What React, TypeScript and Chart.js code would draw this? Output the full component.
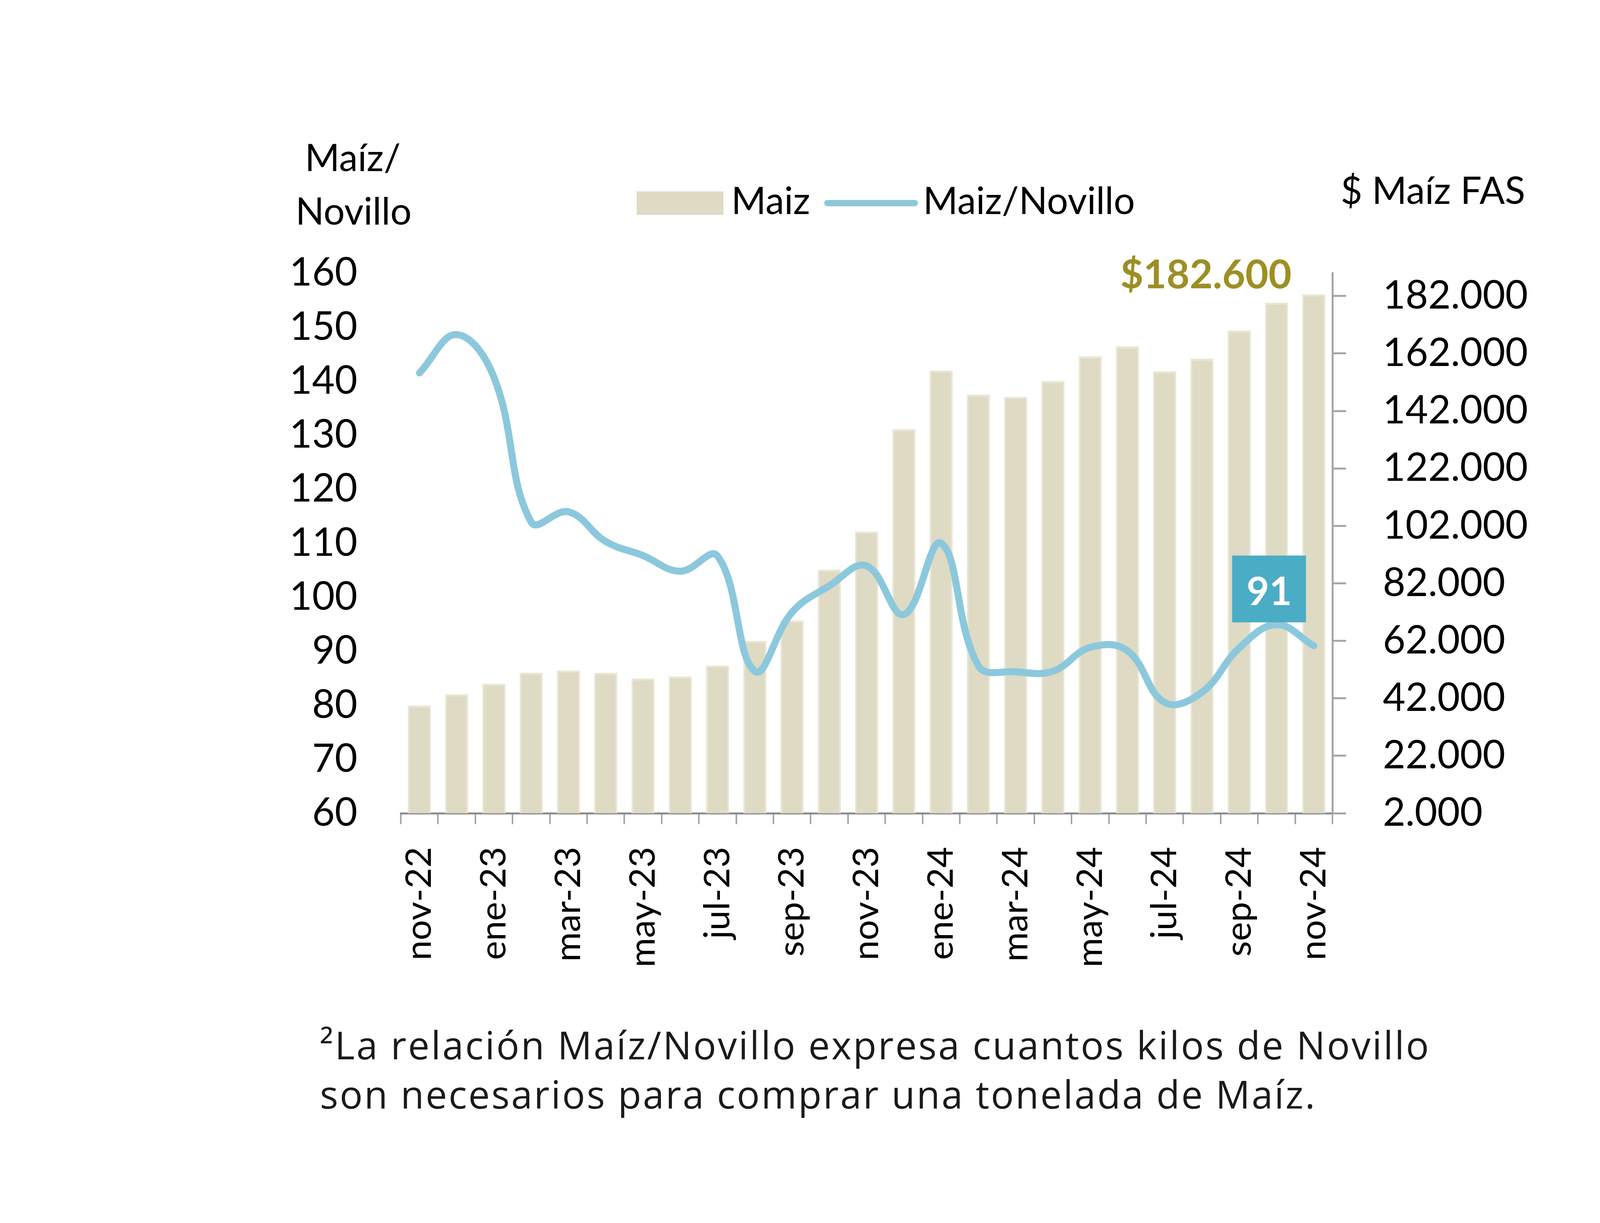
import React, { useEffect, useRef } from 'react';
import { Chart, registerables } from 'chart.js';

Chart.register(...registerables);

// meses nov-22 .. nov-24
const months = [
  'nov-22', 'dic-22', 'ene-23', 'feb-23', 'mar-23', 'abr-23', 'may-23', 'jun-23', 'jul-23',
  'ago-23', 'sep-23', 'oct-23', 'nov-23', 'dic-23', 'ene-24', 'feb-24', 'mar-24', 'abr-24',
  'may-24', 'jun-24', 'jul-24', 'ago-24', 'sep-24', 'oct-24', 'nov-24'
];

// $ Maíz FAS (eje derecho)
const maizPrice = [
  39500, 43400, 47100, 50900, 51700, 50900, 48900, 49600, 53400, 62000, 69100, 86800, 100000,
  135700, 156000, 147700, 146900, 152400, 161000, 164500, 155800, 160200, 170000, 179700, 182600
];

// relación Maíz/Novillo (eje izquierdo)
const maizNovillo = [
  141.5, 148.6, 140.7, 113.9, 115.8, 110.3, 107.7, 104.8, 107.6, 86.3, 97.2, 102.1, 105.8,
  96.8, 110.0, 87.3, 86.2, 86.3, 90.7, 90.1, 80.5, 82.4, 90.6, 94.9, 91.0
];

const rightTicks = [2000, 22000, 42000, 62000, 82000, 102000, 122000, 142000, 162000, 182000];

const footnoteLines = [
  '²La relación Maíz/Novillo expresa cuantos kilos de Novillo',
  'son necesarios para comprar una tonelada de Maíz.'
];

const BAR_COLOR = '#DEDAC4';
const BAR_EDGE = '#E9E6D4';
const LINE_COLOR = '#8CC8DC';
const BOX_COLOR = '#4BACC6';
const PRICE_COLOR = '#9C8F24';
const AXIS_GRAY = '#A6A6A6';

const fmt = (v: number) => String(Math.round(v)).replace(/\B(?=(\d{3})+(?!\d))/g, '.');

const overlayPlugin = {
  id: 'overlay',
  afterDraw(chart: any) {
    const ctx: CanvasRenderingContext2D = chart.ctx;
    ctx.save();

    // titulos de ejes
    ctx.fillStyle = '#000';
    ctx.font = '96px Lato';
    ctx.textBaseline = 'alphabetic';
    ctx.textAlign = 'center';
    ctx.fillText('Maíz/', 903, 438);
    ctx.fillText('Novillo', 905, 575);
    ctx.textAlign = 'left';
    ctx.fillText('$ Maíz FAS', 3432, 522);

    // leyenda
    ctx.fillStyle = BAR_COLOR;
    ctx.fillRect(1630, 490, 222, 60);
    ctx.fillStyle = '#000';
    ctx.fillText('Maiz', 1872, 548);
    ctx.strokeStyle = LINE_COLOR;
    ctx.lineWidth = 16;
    ctx.lineCap = 'round';
    ctx.beginPath();
    ctx.moveTo(2118, 520);
    ctx.lineTo(2342, 520);
    ctx.stroke();
    ctx.fillText('Maiz/Novillo', 2363, 548);

    // etiqueta ultima barra
    const last = months.length - 1;
    const bar = chart.getDatasetMeta(1).data[last];
    ctx.fillStyle = PRICE_COLOR;
    ctx.font = 'bold 102px Lato';
    ctx.textAlign = 'right';
    ctx.fillText('$' + fmt(maizPrice[last]), bar.x - 57, bar.y - 15);

    // etiqueta ultimo punto
    const pt = chart.getDatasetMeta(0).data[last];
    ctx.fillStyle = BOX_COLOR;
    ctx.fillRect(pt.x - 209, pt.y - 231, 189, 171);
    ctx.fillStyle = '#fff';
    ctx.font = 'bold 100px Lato';
    ctx.textAlign = 'center';
    ctx.fillText(String(Math.round(maizNovillo[last])), pt.x - 114, pt.y - 104);

    // nota al pie
    ctx.fillStyle = '#1a1a1a';
    ctx.font = '98px "Open Sans"';
    ctx.textAlign = 'left';
    const targets = [2843, 2551];
    const baselines = [2712, 2838];
    footnoteLines.forEach((line, i) => {
      (ctx as any).letterSpacing = '0px';
      const natural = ctx.measureText(line).width;
      (ctx as any).letterSpacing = ((targets[i] - natural) / line.length).toFixed(2) + 'px';
      ctx.fillText(line, 819, baselines[i]);
    });
    (ctx as any).letterSpacing = '0px';

    ctx.restore();
  }
};

export default function App() {
  const canvasRef = useRef<HTMLCanvasElement>(null);
  const chartRef = useRef<Chart | null>(null);

  useEffect(() => {
    if (!canvasRef.current) return;
    if (chartRef.current) chartRef.current.destroy();

    chartRef.current = new Chart(canvasRef.current, {
      type: 'bar',
      data: {
        labels: months,
        datasets: [
          {
            type: 'line',
            label: 'Maiz/Novillo',
            data: maizNovillo,
            yAxisID: 'yLeft',
            borderColor: LINE_COLOR,
            borderWidth: 18,
            borderCapStyle: 'round',
            borderJoinStyle: 'round',
            pointRadius: 0,
            tension: 0.4,
            order: 1
          } as any,
          {
            type: 'bar',
            label: 'Maiz',
            data: maizPrice,
            yAxisID: 'yRight',
            backgroundColor: BAR_COLOR,
            borderColor: BAR_EDGE,
            borderWidth: { left: 4, right: 4, top: 5, bottom: 0 },
            barPercentage: 0.62,
            categoryPercentage: 1,
            order: 2
          }
        ]
      },
      options: {
        responsive: false,
        animation: false,
        devicePixelRatio: 1,
        layout: { padding: { left: 0, top: 699, right: 489, bottom: 449 } },
        plugins: {
          legend: { display: false },
          tooltip: { enabled: false }
        },
        scales: {
          x: {
            offset: true,
            ticks: {
              autoSkip: false,
              minRotation: 90,
              maxRotation: 90,
              padding: 58,
              color: '#000',
              font: { family: 'Lato', size: 92 },
              callback: (_v: any, i: number) => (i % 2 === 0 ? months[i] : '')
            },
            grid: {
              offset: true,
              drawOnChartArea: false,
              drawTicks: true,
              tickLength: 28,
              color: AXIS_GRAY,
              lineWidth: 4
            },
            border: { display: true, color: '#8C8C8C', width: 5 },
            afterFit: (s: any) => { s.height = 600; }
          },
          yLeft: {
            position: 'left',
            min: 60,
            max: 160,
            ticks: {
              stepSize: 10,
              padding: 103,
              color: '#000',
              font: { family: 'Lato', size: 100 }
            },
            grid: { display: false },
            border: { display: false },
            afterFit: (s: any) => { s.width = 1026; }
          },
          yRight: {
            position: 'right',
            min: 2000,
            max: 190000,
            afterBuildTicks: (s: any) => { s.ticks = rightTicks.map(value => ({ value })); },
            ticks: {
              padding: 94,
              color: '#000',
              font: { family: 'Lato', size: 100 },
              callback: (v: any) => fmt(Number(v))
            },
            grid: {
              drawOnChartArea: false,
              drawTicks: true,
              tickLength: 35,
              color: AXIS_GRAY,
              lineWidth: 5
            },
            border: { display: true, color: AXIS_GRAY, width: 5 },
            afterFit: (s: any) => { s.width = 600; }
          }
        }
      },
      plugins: [overlayPlugin]
    });

    return () => {
      if (chartRef.current) {
        chartRef.current.destroy();
        chartRef.current = null;
      }
    };
  }, []);

  return (
    <div style={{ position: 'absolute', left: 0, top: 0, width: 4500, height: 3131, background: '#fff' }}>
      <canvas ref={canvasRef} width={4500} height={3131} style={{ display: 'block', width: 4500, height: 3131 }} />
    </div>
  );
}
